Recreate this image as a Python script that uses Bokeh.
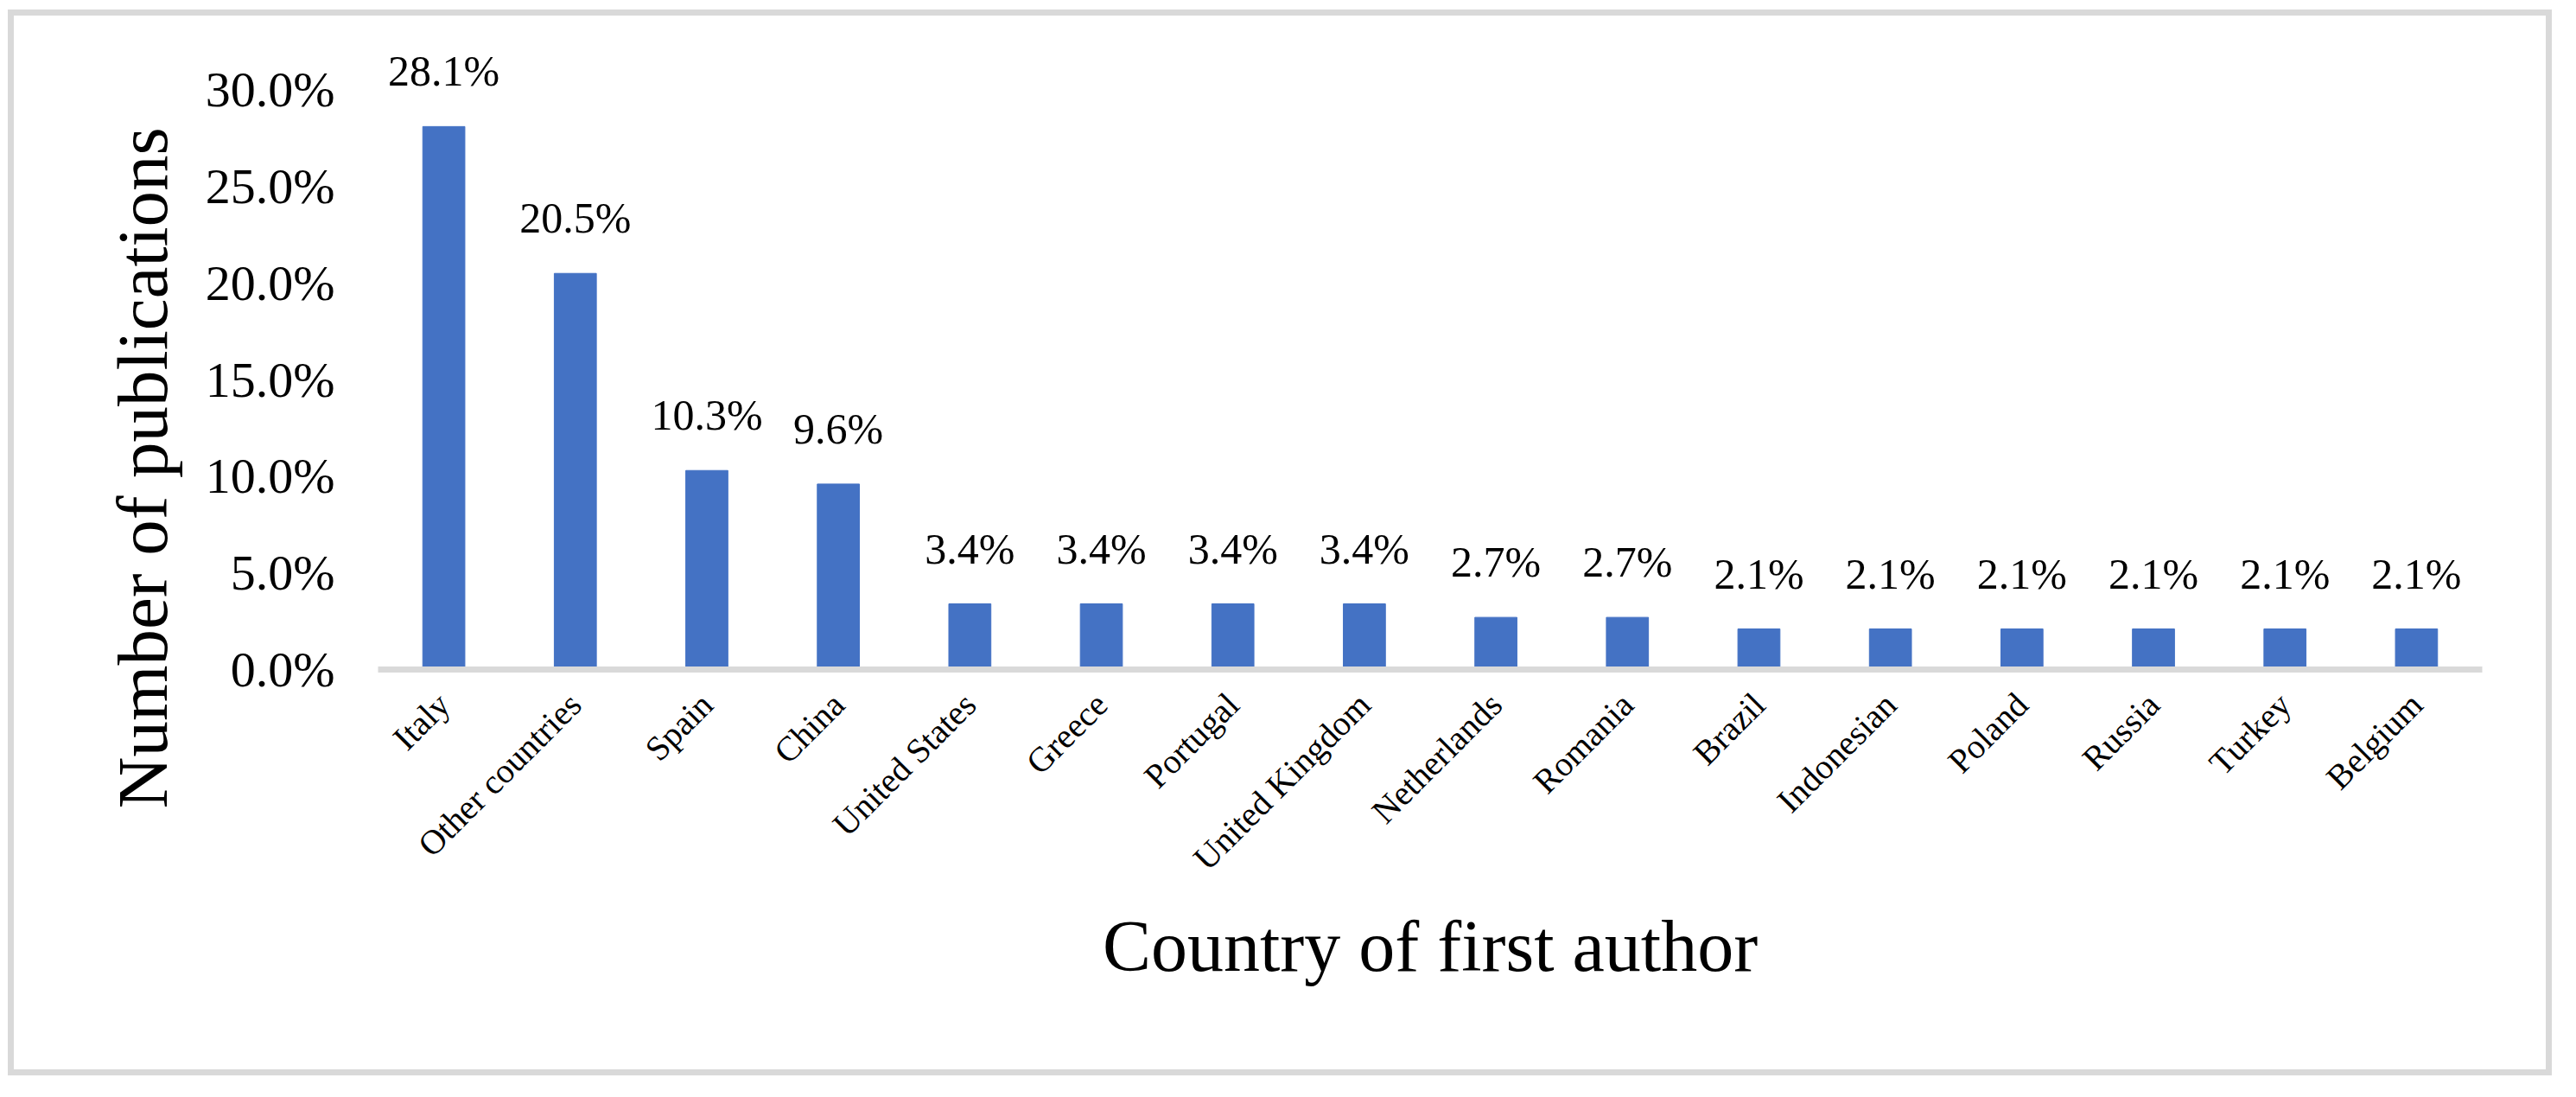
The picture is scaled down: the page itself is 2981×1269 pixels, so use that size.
from math import pi
from bokeh.plotting import figure
from bokeh.layouts import column, row
from bokeh.models import (FactorRange, Range1d, FixedTicker, PrintfTickFormatter,
                          LabelSet, ColumnDataSource, Title, Spacer)
from bokeh.core.properties import value
from bokeh.embed import file_html
from bokeh.resources import INLINE

# ---- data ----
categories = ["Italy", "Other countries", "Spain", "China", "United States", "Greece",
              "Portugal", "United Kingdom", "Netherlands", "Romania", "Brazil",
              "Indonesian", "Poland", "Russia", "Turkey", "Belgium"]
values = [28.1, 20.5, 10.3, 9.6, 3.4, 3.4, 3.4, 3.4, 2.7, 2.7, 2.1, 2.1, 2.1, 2.1, 2.1, 2.1]
y_ticks = [0, 5, 10, 15, 20, 25, 30]
x_title = "Country of first author"
y_title = "Number of publications"

FONT = "Liberation Serif"
BAR = "#4472C4"
GREY = "#D9D9D9"

src = ColumnDataSource(dict(cat=categories, val=values,
                            lbl=[f"{v:.1f}%" for v in values]))

# element size includes the 7px CSS border (border-box)
W, H = 2944, 1233
p = figure(x_range=FactorRange(*categories), y_range=Range1d(0, 32.3),
           width=W, height=H, output_backend="svg", toolbar_location=None,
           min_border_left=421, min_border_right=88, min_border_top=34,
           min_border_bottom=477,
           styles={"border": "7px solid #D9D9D9"})
p.title.visible = False
p.outline_line_color = None
p.xgrid.grid_line_color = None
p.ygrid.grid_line_color = None
p.background_fill_color = "white"
p.border_fill_color = "white"

p.vbar(x="cat", top="val", width=0.32, color=BAR, source=src)

xa = p.xaxis[0]
xa.axis_line_color = GREY
xa.axis_line_width = 7
xa.major_tick_line_color = None
xa.minor_tick_line_color = None
xa.major_tick_out = 0
xa.major_label_orientation = pi / 4
xa.major_label_text_font = FONT
xa.major_label_text_font_size = "40px"
xa.major_label_text_color = "black"
xa.major_label_standoff = 34
xa.axis_label = x_title
xa.axis_label_text_font = FONT
xa.axis_label_text_font_size = "84px"
xa.axis_label_text_font_style = "normal"
xa.axis_label_text_color = "black"
xa.axis_label_standoff = 14

ya = p.yaxis[0]
ya.axis_line_color = None
ya.major_tick_line_color = None
ya.minor_tick_line_color = None
ya.major_tick_out = 0
ya.ticker = FixedTicker(ticks=y_ticks)
ya.formatter = PrintfTickFormatter(format="%.1f%%")
ya.major_label_text_font = FONT
ya.major_label_text_font_size = "58px"
ya.major_label_text_color = "black"
ya.major_label_standoff = 50

labels = LabelSet(x="cat", y="val", text="lbl", source=src, text_align="center",
                  text_baseline="alphabetic", y_offset=47,
                  text_font=value(FONT), text_font_size=value("50px"),
                  text_color="black")
p.add_layout(labels)

p.add_layout(Title(text=y_title, align="left", offset=-161, standoff=48,
                   text_font=FONT, text_font_size="83px", text_font_style="normal",
                   text_color="black"), "left")

page = column(Spacer(height=11), row(Spacer(width=9), p))

open("out.html", "w").write(file_html(page, INLINE))
